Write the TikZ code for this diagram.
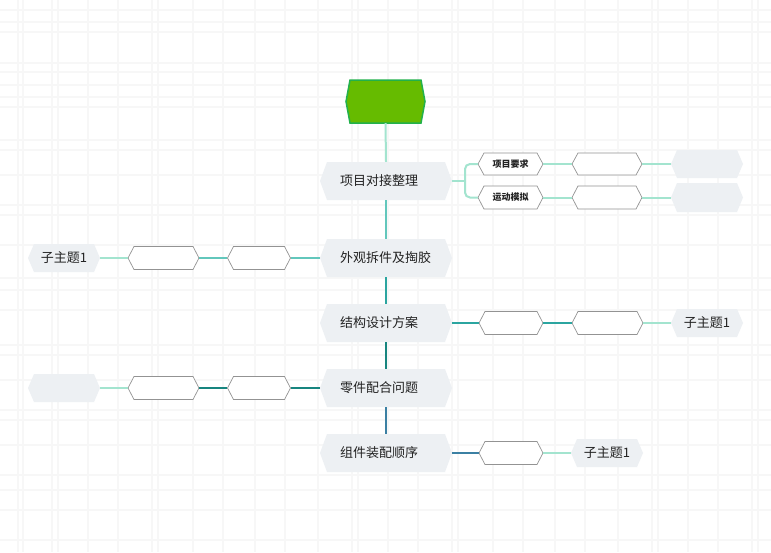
\documentclass[tikz,border=0pt]{standalone}
\usepackage{fontspec}
\newfontfamily\cjk{Noto Sans CJK SC}
\definecolor{mint}{HTML}{A3E4CF}
\definecolor{tealA}{HTML}{62C7BC}
\definecolor{tealB}{HTML}{2BA5A0}
\definecolor{tealC}{HTML}{17857F}
\definecolor{tealD}{HTML}{3B80A3}
\definecolor{rootfill}{HTML}{66BB00}
\definecolor{rootdraw}{HTML}{22B14C}
\definecolor{hexgray}{HTML}{EDF0F3}
\definecolor{txtcol}{HTML}{222222}
\definecolor{gridcol}{HTML}{F7F7F7}
\tikzset{
  conn/.style={line width=2pt},
  mainhex/.style={fill=hexgray},
  emptyhex/.style={fill=white, draw=gray!85, line width=0.7pt},
  tiphex/.style={fill=hexgray},
  roothex/.style={fill=rootfill, draw=rootdraw, line width=1.5pt},
  txt/.style={font=\cjk\fontsize{13}{15}\selectfont, text=txtcol},
  smalltxt/.style={font=\cjk\bfseries\fontsize{9}{11}\selectfont, text=txtcol},
}
% #1 style, #2 name, #3 x, #4 y, #5 w, #6 h, #7 point, #8 text style, #9 text
\newcommand\hexbox[9]{%
  \path[#1] ({#3-#5/2},#4) -- ({#3-#5/2+#7},{#4-#6/2}) -- ({#3+#5/2-#7},{#4-#6/2})
    -- ({#3+#5/2},#4) -- ({#3+#5/2-#7},{#4+#6/2}) -- ({#3-#5/2+#7},{#4+#6/2}) -- cycle;
  \node[minimum width=#5, minimum height=#6, inner sep=0, #8] (#2) at (#3,#4) {#9};
}
% main node: text left aligned
\newcommand\mainbox[4]{%
  \path[mainhex] ({#2-66},#3) -- ({#2-59},{#3-19}) -- ({#2+59},{#3-19})
    -- ({#2+66},#3) -- ({#2+59},{#3+19}) -- ({#2-59},{#3+19}) -- cycle;
  \node[txt, minimum height=38, inner ysep=0, inner xsep=20pt, text width=92pt, align=left] (#1) at (#2,#3) {#4};
}
\begin{document}
\begin{tikzpicture}[x=1pt,y=-1pt]
\useasboundingbox (0,0) rectangle (771,552);
\fill[white] (0,0) rectangle (771,552);
% faint background grid
\foreach \gx in {18,23,52,58,88,118,152,158,193,223,255,285,318,352,358,388,418,452,458,493,523,555,585,618,652,658,688,718,752,758}
  \draw[gridcol, line width=1.2pt] (\gx,0) -- (\gx,552);
\foreach \gy in {10,22,32,63,72,85,97,107,140,150,175,205,215,245,278,290,310,345,355,380,410,420,445,475,490,510,540}
  \draw[gridcol, line width=1.2pt] (0,\gy) -- (771,\gy);

% root
\hexbox{roothex}{root}{385.5}{101.5}{79}{43}{4}{txt}{}
% main topics
\mainbox{n1}{386}{181}{项目对接整理}
\mainbox{n2}{386}{258}{外观拆件及掏胶}
\mainbox{n3}{386}{323}{结构设计方案}
\mainbox{n4}{386}{388}{零件配合问题}
\mainbox{n5}{386}{453}{组件装配顺序}

% branch of n1
\hexbox{emptyhex}{a1}{510.5}{164}{65}{22}{6}{smalltxt}{项目要求}
\hexbox{emptyhex}{a2}{510.5}{197.5}{65}{23}{6}{smalltxt}{运动模拟}
\hexbox{emptyhex}{b1}{607}{164}{70}{22}{6}{txt}{}
\hexbox{emptyhex}{b2}{607}{197.5}{70}{23}{6}{txt}{}
\hexbox{tiphex}{c1}{707}{164}{72}{28}{6}{txt}{}
\hexbox{tiphex}{c2}{707}{197.5}{72}{29}{6}{txt}{}

% branch of n2
\hexbox{emptyhex}{d1}{259}{258}{63}{23}{6}{txt}{}
\hexbox{emptyhex}{d2}{163.5}{258}{71}{23}{6}{txt}{}
\hexbox{tiphex}{d3}{64}{258}{72}{28}{6}{txt}{子主题1}

% branch of n3
\hexbox{emptyhex}{e1}{511}{323}{64}{23}{6}{txt}{}
\hexbox{emptyhex}{e2}{607.5}{323}{71}{23}{6}{txt}{}
\hexbox{tiphex}{e3}{707}{323}{72}{28}{6}{txt}{子主题1}

% branch of n4
\hexbox{emptyhex}{f1}{259}{388}{63}{23}{6}{txt}{}
\hexbox{emptyhex}{f2}{163.5}{388}{71}{23}{6}{txt}{}
\hexbox{tiphex}{f3}{64}{388}{72}{28}{6}{txt}{}

% branch of n5
\hexbox{emptyhex}{g1}{511}{453}{64}{23}{6}{txt}{}
\hexbox{tiphex}{g2}{607}{453}{72}{28}{6}{txt}{子主题1}

% trunk
\draw[conn, mint] (root.south) -- (n1.north);
\draw[conn, tealA] (n1.south) -- (n2.north);
\draw[conn, tealB] (n2.south) -- (n3.north);
\draw[conn, tealC] (n3.south) -- (n4.north);
\draw[conn, tealD] (n4.south) -- (n5.north);

% n1 connectors
\coordinate (fork) at (465,181);
\draw[conn, mint] (n1.east) -- (fork);
\draw[conn, mint, rounded corners=5pt] (fork) |- (a1.west);
\draw[conn, mint, rounded corners=5pt] (fork) |- (a2.west);
\draw[conn, mint] (a1.east) -- (b1.west);
\draw[conn, mint] (a2.east) -- (b2.west);
\draw[conn, mint] (b1.east) -- (c1.west);
\draw[conn, mint] (b2.east) -- (c2.west);

% n2 connectors
\draw[conn, tealA] (n2.west) -- (d1.east);
\draw[conn, tealA] (d1.west) -- (d2.east);
\draw[conn, mint] (d2.west) -- (d3.east);

% n3 connectors
\draw[conn, tealB] (n3.east) -- (e1.west);
\draw[conn, tealB] (e1.east) -- (e2.west);
\draw[conn, mint] (e2.east) -- (e3.west);

% n4 connectors
\draw[conn, tealC] (n4.west) -- (f1.east);
\draw[conn, tealC] (f1.west) -- (f2.east);
\draw[conn, mint] (f2.west) -- (f3.east);

% n5 connectors
\draw[conn, tealD] (n5.east) -- (g1.west);
\draw[conn, mint] (g1.east) -- (g2.west);
\end{tikzpicture}
\end{document}
